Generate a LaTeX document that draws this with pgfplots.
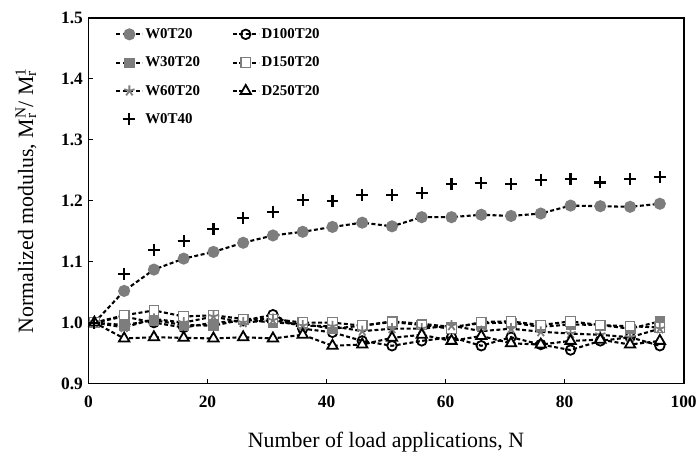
\documentclass[border=0pt]{standalone}
\usepackage{pgfplots}
\pgfplotsset{compat=1.18}
\usepackage{pgfplotstable}
\usepackage{fontspec}
\setmainfont{Liberation Serif}
\definecolor{mgray}{RGB}{125,125,125}

\pgfplotstableread{
x    w0t20  w0t40  w30   d100   d150   w60    d250
1    1.000  1.000  1.000  1.000  1.000  1.000  1.000
6    1.052  1.080  0.996  1.010  1.012  0.992  0.974
11   1.087  1.119  1.004  1.000  1.020  1.006  0.976
16   1.105  1.134  0.996  0.992  1.010  1.000  0.975
21   1.116  1.153  0.995  1.000  1.012  1.010  0.974
26   1.131  1.172  1.005  1.003  1.006  1.000  0.976
31   1.143  1.182  1.000  1.013  1.006  1.004  0.974
36   1.149  1.201  0.998  0.990  1.000  0.995  0.980
41   1.157  1.200  0.990  0.984  1.000  0.994  0.962
46   1.164  1.210  0.995  0.970  0.995  0.986  0.964
51   1.158  1.210  1.002  0.962  1.001  0.990  0.975
56   1.173  1.212  0.998  0.970  0.996  0.990  0.980
61   1.173  1.227  0.993  0.976  0.990  0.995  0.970
66   1.177  1.229  0.999  0.962  1.001  0.986  0.978
71   1.175  1.227  1.000  0.976  1.002  0.990  0.966
76   1.179  1.234  0.993  0.964  0.996  0.985  0.964
81   1.192  1.236  0.997  0.955  1.002  0.982  0.970
86   1.191  1.230  0.996  0.970  0.996  0.980  0.972
91   1.190  1.236  0.990  0.976  0.994  0.976  0.964
96   1.195  1.239  1.002  0.962  0.992  0.990  0.970
}\data

\tikzset{dl/.style={black, line width=2.1pt, dash pattern=on 4pt off 2.5pt}}

\begin{document}
\begin{tikzpicture}
\begin{axis}[
  scale only axis,
  width=599pt, height=368pt,
  xmin=0, xmax=100, ymin=0.9, ymax=1.5,
  xtick={0,20,40,60,80,100},
  ytick={0.9,1.0,1.1,1.2,1.3,1.4,1.5},
  tick align=inside,
  xtick pos=left, ytick pos=left,
  major tick length=5pt,
  tick style={line width=1.2pt, black},
  axis line style={line width=1.8pt},
  /pgf/number format/assume math mode=true,
  y tick label style={/pgf/number format/fixed, /pgf/number format/fixed zerofill, /pgf/number format/precision=1, xshift=-2pt},
  ticklabel style={font=\fontsize{17.5}{19}\selectfont\bfseries},
  x tick label style={yshift=-9pt},
  xlabel={Number of load applications, N},
  ylabel={Normalized modulus, M\rlap{\textsubscript{r}}\textsuperscript{N}/ M\rlap{\textsubscript{r}}\textsuperscript{1}},
  label style={font=\fontsize{22}{24}\selectfont},
  xlabel style={yshift=-18pt},
  ylabel style={yshift=18pt},
  legend columns=2,
  legend cell align=left,
  legend style={draw=none, fill=none, at={(0.04,0.982)}, anchor=north west,
    font=\fontsize{15}{17}\selectfont\bfseries,
    /tikz/every even column/.append style={column sep=30pt},
    row sep=13pt},
  legend image code/.code={\draw[mark repeat=2,mark phase=2,#1] plot coordinates {(0pt,0pt) (13pt,0pt) (26pt,0pt)};},
]
\addplot[dl, mark=*, mark size=5pt, mark options={solid, fill=mgray, draw=mgray}] table[x=x,y=w0t20]{\data};
\addlegendentry{W0T20}
\addplot[dl, mark=o, mark size=4.8pt, mark options={solid, line width=1.8pt, fill=white, draw=black}] table[x=x,y=d100]{\data};
\addlegendentry{D100T20}
\addplot[dl, mark=square*, mark size=4.8pt, mark options={solid, line width=0.5pt, fill=mgray, draw=mgray}] table[x=x,y=w30]{\data};
\addlegendentry{W30T20}
\addplot[dl, mark=square*, mark size=4.8pt, mark options={solid, line width=1.2pt, fill=white, draw=mgray}] table[x=x,y=d150]{\data};
\addlegendentry{D150T20}
\addplot[dl, mark=star, mark size=5.5pt, mark options={solid, line width=1.8pt, draw=mgray}] table[x=x,y=w60]{\data};
\addlegendentry{W60T20}
\addplot[dl, mark=triangle*, mark size=6pt, mark options={solid, line width=1.8pt, fill=white, draw=black}] table[x=x,y=d250]{\data};
\addlegendentry{D250T20}
\addplot[black, only marks, mark=+, mark size=6pt, mark options={solid, line width=2.2pt}] table[x=x,y=w0t40]{\data};
\addlegendentry{W0T40}
\end{axis}
\path (current axis.south west) ++(-89pt,-76pt) rectangle ++(700pt,462pt);
\end{tikzpicture}
\end{document}
